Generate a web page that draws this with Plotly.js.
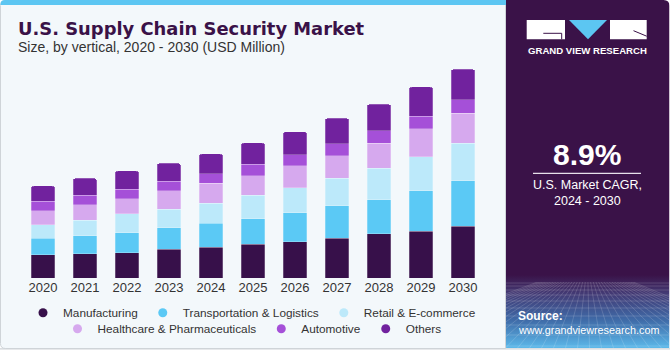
<!DOCTYPE html>
<html>
<head>
<meta charset="utf-8">
<script src="https://cdn.plot.ly/plotly-3.0.1.min.js"></script>
<style>html,body{margin:0;padding:0;background:#fff;}#chart{width:670px;height:350px;}</style>
</head>
<body>
<div id="chart"></div>
<script>
// ---- data ----
var years = ['2020','2021','2022','2023','2024','2025','2026','2027','2028','2029','2030'];
var manufacturing = [122.5,127.8,134.9,152.4,162.9,178.7,192.6,210.2,234.7,247.0,273.3];
var transportation = [87.6,96.3,105.1,114.0,126.1,134.9,152.4,169.9,178.7,212.0,240.0];
var retail = [71.8,80.6,98.1,96.3,105.1,122.6,129.6,145.3,164.7,180.4,196.2];
var healthcare = [73.6,80.6,78.8,98.0,105.1,101.6,115.6,117.4,131.4,145.3,157.6];
var automotive = [49.0,50.8,50.8,49.0,50.8,61.3,57.8,63.1,64.8,66.6,70.1];
var others = [80.6,89.3,96.3,94.6,103.4,112.1,122.6,134.9,140.1,154.2,161.2];
var seriesNames = ['Manufacturing','Transportation & Logistics','Retail & E-commerce','Healthcare & Pharmaceuticals','Automotive','Others'];
var labelYear = '2023';
var labelText = '$604.3M';
var cagrText = '8.9%';

// ---- styling ----
var W = 670, H = 350;
function X(p){ return p / W; }
function Y(p){ return 1 - p / H; }
var colors = ['#37104a','#5bc9f5','#bce9fa','#d6a9ee','#a550d8','#71229e'];
var series = [manufacturing, transportation, retail, healthcare, automotive, others];
var FONT = 'Liberation Sans, Arial, sans-serif';

var traces = [];
series.forEach(function(vals, i){
  traces.push({
    type: 'bar', x: years, y: vals, name: seriesNames[i],
    marker: {color: colors[i], line: {color: 'rgba(255,255,255,0.35)', width: 0.7}},
    showlegend: false, hoverinfo: 'x+y+name'
  });
});
series.forEach(function(vals, i){
  traces.push({
    type: 'scatter', mode: 'markers', x: [null], y: [null], name: seriesNames[i],
    marker: {color: colors[i], size: 9, symbol: 'circle'},
    showlegend: true, hoverinfo: 'skip',
    legend: i < 3 ? 'legend' : 'legend2'
  });
});

// background texture for right panel (gradient + perspective grid)
var g = "<svg xmlns='http://www.w3.org/2000/svg' width='164' height='348' viewBox='0 0 164 348' preserveAspectRatio='none'>" +
  "<defs><linearGradient id='g' x1='0' y1='0' x2='0' y2='1'>" +
  "<stop offset='0' stop-color='#3a1248'/><stop offset='0.79' stop-color='#3a1248'/>" +
  "<stop offset='0.84' stop-color='#433872'/><stop offset='0.92' stop-color='#3f6ba8'/>" +
  "<stop offset='1' stop-color='#5cb9ea'/></linearGradient>" +
  "<clipPath id='c'><rect x='0' y='282' width='164' height='66'/></clipPath></defs>" +
  "<path d='M0 0 H158 Q164 0 164 6 V348 H0 Z' fill='url(#g)'/><g clip-path='url(#c)' stroke='#ffffff' stroke-opacity='0.22' stroke-width='0.7' fill='none'>";
var hy = [283,286,290,295,301,308,316,325,335,346];
hy.forEach(function(v){ g += "<line x1='0' y1='"+v+"' x2='164' y2='"+v+"'/>"; });
for (var k = -12; k <= 24; k++) {
  var bx = k * 12;
  g += "<line x1='"+(82 + (bx-82)*0.08)+"' y1='270' x2='"+bx+"' y2='348'/>";
}
g += "</g></svg>";
var gsrc = 'data:image/svg+xml;charset=utf-8,' + encodeURIComponent(g);

// left panel: rounded on the left corners only
var r = 5, x0 = 0.5, x1 = 505.5, y0 = 0.5, y1 = 348.5;
var leftPanel = 'M'+X(x0+r)+','+Y(y0)+' L'+X(x1)+','+Y(y0)+' L'+X(x1)+','+Y(y1)+
  ' L'+X(x0+r)+','+Y(y1)+' Q'+X(x0)+','+Y(y1)+' '+X(x0)+','+Y(y1-r)+
  ' L'+X(x0)+','+Y(y0+r)+' Q'+X(x0)+','+Y(y0)+' '+X(x0+r)+','+Y(y0)+' Z';

var shapes = [
  {type:'path', xref:'paper', yref:'paper', path: leftPanel, fillcolor:'#f3f8fb', line:{color:'#cfd4d8', width:1}, layer:'below'},
  {type:'path', xref:'paper', yref:'paper', path: 'M'+X(0.5)+','+Y(5)+' L'+X(0.5)+','+Y(4)+' Q'+X(0.5)+','+Y(0)+' '+X(5)+','+Y(0)+' L'+X(506)+','+Y(0)+' L'+X(506)+','+Y(5)+' Z', fillcolor:'#5cc6f2', line:{width:0}, layer:'below'},
  // logo
  {type:'rect', xref:'paper', yref:'paper', x0:X(526.7), x1:X(565), y0:Y(39.3), y1:Y(20), fillcolor:'#ffffff', line:{width:0}, layer:'above'},
  {type:'path', xref:'paper', yref:'paper', path:'M'+X(543.3)+','+Y(33.3)+' L'+X(561.7)+','+Y(33.3)+' L'+X(561.7)+','+Y(39.3), line:{color:'#3a1248', width:1}, layer:'above'},
  {type:'path', xref:'paper', yref:'paper', path:'M'+X(569)+','+Y(20)+' L'+X(607)+','+Y(20)+' L'+X(588)+','+Y(39.3)+' Z', fillcolor:'#5cc6f2', line:{width:0}, layer:'above'},
  {type:'rect', xref:'paper', yref:'paper', x0:X(610), x1:X(646.7), y0:Y(39.3), y1:Y(20), fillcolor:'#ffffff', line:{width:0}, layer:'above'},
  {type:'path', xref:'paper', yref:'paper', path:'M'+X(633.5)+','+Y(30.7)+' L'+X(646.7)+','+Y(36.2), line:{color:'#3a1248', width:1}, layer:'above'},
  // CAGR divider
  {type:'line', xref:'paper', yref:'paper', x0:X(533), x1:X(641), y0:Y(173.3), y1:Y(173.3), line:{color:'#e6e0ea', width:1.2}, layer:'above'},
  // bottom border
  {type:'line', xref:'paper', yref:'paper', x0:0, x1:1, y0:Y(348.8), y1:Y(348.8), line:{color:'#cfd4d8', width:1.2}, layer:'above'}
];

var labelIdx = years.indexOf(labelYear);
var labelTop = 0; series.forEach(function(s){ labelTop += s[labelIdx]; });

var annotations = [
  {xref:'paper', yref:'paper', x:X(16), y:Y(28.5), xanchor:'left', yanchor:'middle', showarrow:false,
   text:'<b>U.S. Supply Chain Security Market</b>', font:{family:'DejaVu Sans, Liberation Sans, sans-serif', size:17.9, color:'#3a1248'}},
  {xref:'paper', yref:'paper', x:X(16), y:Y(47.5), xanchor:'left', yanchor:'middle', showarrow:false,
   text:'Size, by vertical, 2020 - 2030 (USD Million)', font:{family:FONT, size:14, color:'#333333'}},
  {xref:'x', yref:'y', x:labelYear, y:labelTop, xanchor:'center', yanchor:'bottom', yshift:9, showarrow:false,
   text:labelText, font:{family:FONT, size:13, color:'#333333'}},
  {xref:'paper', yref:'paper', x:X(587), y:Y(50.7), xanchor:'center', yanchor:'middle', showarrow:false,
   text:'<b>GRAND VIEW RESEARCH</b>', font:{family:FONT, size:9.6, color:'#ffffff'}},
  {xref:'paper', yref:'paper', x:X(587), y:Y(154.5), xanchor:'center', yanchor:'middle', showarrow:false,
   text:'<b>'+cagrText+'</b>', font:{family:FONT, size:30, color:'#ffffff'}},
  {xref:'paper', yref:'paper', x:X(587), y:Y(185), xanchor:'center', yanchor:'middle', showarrow:false,
   text:'U.S. Market CAGR,', font:{family:FONT, size:12.5, color:'#ffffff'}},
  {xref:'paper', yref:'paper', x:X(587), y:Y(201), xanchor:'center', yanchor:'middle', showarrow:false,
   text:'2024 - 2030', font:{family:FONT, size:12.5, color:'#ffffff'}},
  {xref:'paper', yref:'paper', x:X(516), y:Y(315.5), xanchor:'left', yanchor:'middle', showarrow:false,
   text:'<b>Source:</b>', font:{family:FONT, size:12, color:'#ffffff'}},
  {xref:'paper', yref:'paper', x:X(516), y:Y(330), xanchor:'left', yanchor:'middle', showarrow:false,
   text:'www.grandviewresearch.com', font:{family:FONT, size:10.8, color:'#ffffff'}}
];

var legendBase = {orientation:'h', xanchor:'center', yanchor:'middle', bgcolor:'rgba(0,0,0,0)',
  font:{family:FONT, size:11.8, color:'#333333'}, itemclick:false, itemdoubleclick:false, traceorder:'normal'};
var legend1 = Object.assign({}, legendBase, {x:X(252), y:Y(312.7)});
var legend2 = Object.assign({}, legendBase, {x:X(252), y:Y(328.7)});

var layout = {
  width: W, height: H,
  margin: {l:0, r:0, t:0, b:0},
  paper_bgcolor: '#ffffff', plot_bgcolor: 'rgba(0,0,0,0)',
  barmode: 'stack', bargap: 0.43, barcornerradius: 3,
  font: {family: FONT, color: '#333333'},
  xaxis: {type:'category', domain:[X(22), X(484)], range:[-0.5, 10.5], showgrid:false, zeroline:false, showline:false,
    ticks:'', tickfont:{family:FONT, size:13, color:'#333333'}, fixedrange:true},
  yaxis: {domain:[Y(278.3), Y(60)], range:[0, 1147], showgrid:false, zeroline:false, showline:false,
    showticklabels:false, ticks:'', fixedrange:true},
  legend: legend1,
  legend2: legend2,
  shapes: shapes,
  annotations: annotations,
  images: [{source: gsrc, xref:'paper', yref:'paper', x:X(505.5), y:1, sizex:X(164), sizey:348/350,
    xanchor:'left', yanchor:'top', sizing:'stretch', layer:'below'}],
  showlegend: true
};

Plotly.newPlot('chart', traces, layout, {displayModeBar:false, staticPlot:true});
</script>
</body>
</html>
